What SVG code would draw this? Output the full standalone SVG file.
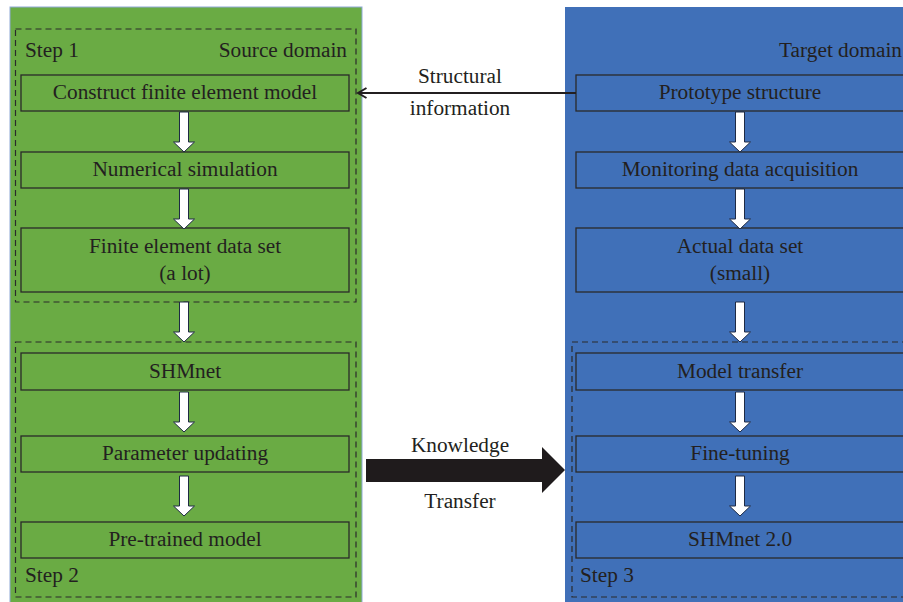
<svg xmlns="http://www.w3.org/2000/svg" width="903" height="602" viewBox="0 0 903 602">
  <defs>
    <style>
      text { font-family: "Liberation Serif", "Times New Roman", serif; font-size: 21.3px; fill: #231f20; }
      .mid { text-anchor: middle; }
      .end { text-anchor: end; }
      .box { stroke: #2a2a2a; stroke-width: 1.3; }
      .green { fill: #6aab44; }
      .blue { fill: #4070b8; }
      .dash { fill: none; stroke: #2a2a2a; stroke-width: 1.2; stroke-dasharray: 6 4; }
      .down { fill: #ffffff; stroke: #1e2a44; stroke-width: 1; }
    </style>
    <!-- white block arrow pointing down, origin at tail centre -->
    <path id="down" d="M -4.5 0 L 4.5 0 L 4.5 30 L 10.5 30 L 0 40 L -10.5 30 L -4.5 30 Z"/>
    <marker id="chev" markerWidth="12" markerHeight="12" refX="9.5" refY="6" orient="auto" markerUnits="userSpaceOnUse">
      <path d="M 1 1 L 9.5 6 L 1 11" fill="none" stroke="#231f20" stroke-width="2"/>
    </marker>
  </defs>

  <!-- source domain panel -->
  <g id="source-panel">
    <rect x="10" y="7" width="352" height="600" class="green" stroke="#8fa9d8" stroke-width="1"/>
    <rect x="15.5" y="29" width="340.5" height="273" class="dash"/>
    <rect x="15.5" y="342" width="340.5" height="255" class="dash"/>
    <text x="25" y="57">Step 1</text>
    <text x="347" y="57" class="end">Source domain</text>
    <text x="25" y="582">Step 2</text>
  </g>

  <!-- target domain panel -->
  <g id="target-panel">
    <rect x="565" y="7" width="360" height="600" class="blue"/>
    <rect x="572" y="342" width="345" height="255" class="dash"/>
    <text x="902" y="57" class="end">Target domain</text>
    <text x="580" y="582">Step 3</text>
  </g>

  <g id="construct-fem">
    <rect x="21" y="75" width="328" height="36" class="box green"/>
    <text x="185" y="98.5" class="mid">Construct finite element model</text>
  </g>
  <g id="numerical-simulation">
    <rect x="21" y="152" width="328" height="36" class="box green"/>
    <text x="185" y="175.5" class="mid">Numerical simulation</text>
  </g>
  <g id="fe-data-set">
    <rect x="21" y="228" width="328" height="64" class="box green"/>
    <text x="185" y="252.5" class="mid">Finite element data set</text>
    <text x="185" y="279.5" class="mid">(a lot)</text>
  </g>
  <g id="shmnet">
    <rect x="21" y="353" width="328" height="37" class="box green"/>
    <text x="185" y="377.5" class="mid">SHMnet</text>
  </g>
  <g id="parameter-updating">
    <rect x="21" y="436" width="328" height="36" class="box green"/>
    <text x="185" y="459.5" class="mid">Parameter updating</text>
  </g>
  <g id="pretrained-model">
    <rect x="21" y="522" width="328" height="36" class="box green"/>
    <text x="185" y="545.5" class="mid">Pre-trained model</text>
  </g>

  <g id="prototype-structure">
    <rect x="576" y="75" width="330" height="36" class="box blue"/>
    <text x="740" y="98.5" class="mid">Prototype structure</text>
  </g>
  <g id="monitoring-data">
    <rect x="576" y="152" width="330" height="36" class="box blue"/>
    <text x="740" y="175.5" class="mid">Monitoring data acquisition</text>
  </g>
  <g id="actual-data-set">
    <rect x="576" y="228" width="330" height="64" class="box blue"/>
    <text x="740" y="252.5" class="mid">Actual data set</text>
    <text x="740" y="279.5" class="mid">(small)</text>
  </g>
  <g id="model-transfer">
    <rect x="576" y="353" width="330" height="37" class="box blue"/>
    <text x="740" y="377.5" class="mid">Model transfer</text>
  </g>
  <g id="fine-tuning">
    <rect x="576" y="436" width="330" height="36" class="box blue"/>
    <text x="740" y="459.5" class="mid">Fine-tuning</text>
  </g>
  <g id="shmnet-2">
    <rect x="576" y="522" width="330" height="36" class="box blue"/>
    <text x="740" y="545.5" class="mid">SHMnet 2.0</text>
  </g>

  <g id="connectors">
    <use href="#down" x="184" y="112" class="down"/>
    <use href="#down" x="184" y="189" class="down"/>
    <use href="#down" x="184" y="302" class="down"/>
    <use href="#down" x="184" y="392" class="down"/>
    <use href="#down" x="184" y="476" class="down"/>

    <use href="#down" x="740" y="112" class="down"/>
    <use href="#down" x="740" y="189" class="down"/>
    <use href="#down" x="740" y="302" class="down"/>
    <use href="#down" x="740" y="392" class="down"/>
    <use href="#down" x="740" y="476" class="down"/>

    <!-- structural information feedback -->
    <line x1="576" y1="93" x2="358" y2="93" stroke="#231f20" stroke-width="2" marker-end="url(#chev)"/>
    <text x="460" y="83" class="mid">Structural</text>
    <text x="460" y="115" class="mid">information</text>

    <!-- knowledge transfer -->
    <path d="M 366 459 L 542 459 L 542 447 L 565 470 L 542 493 L 542 482 L 366 482 Z" fill="#1f1b1c"/>
    <text x="460" y="452" class="mid">Knowledge</text>
    <text x="460" y="508" class="mid">Transfer</text>
  </g>
</svg>
